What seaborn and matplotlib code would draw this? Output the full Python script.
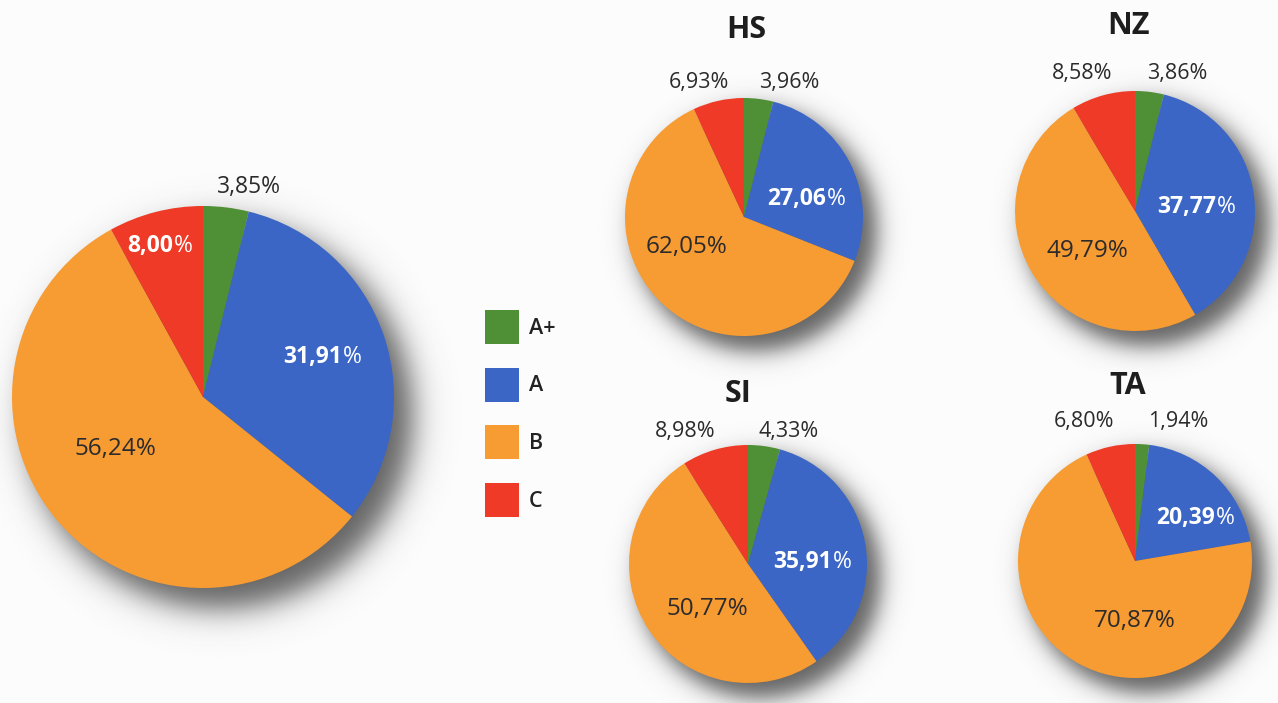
import numpy as np
import matplotlib
matplotlib.use("Agg")
import matplotlib.pyplot as plt
import seaborn as sns

# ---------------- data ----------------
categories = ["A+", "A", "B", "C"]
overall = [3.85, 31.91, 56.24, 8.00]
hs = [3.96, 27.06, 62.05, 6.93]
nz = [3.86, 37.77, 49.79, 8.58]
si = [4.33, 35.91, 50.77, 8.98]
ta = [1.94, 20.39, 70.87, 6.80]
titles = ["", "HS", "NZ", "SI", "TA"]

# ---------------- style ----------------
sns.set_theme(style="white")
plt.rcParams["font.family"] = ["Open Sans", "DejaVu Sans"]
palette = sns.color_palette(["#4f8f35", "#3b66c6", "#f79b33", "#ee3a26"])
BG = "#fcfcfc"
DARK = "#2b2b2b"

W, H = 1278, 703
fig = plt.figure(figsize=(W / 100, H / 100), dpi=100, facecolor=BG)
ax = fig.add_axes([0, 0, 1, 1])
ax.set_facecolor(BG)

# layout (image pixel coords, y downward); label offsets in units of radius
pies = [
    dict(vals=overall, c=(203, 397), r=191, title=titles[0], tpos=None,
         lab=[(0.24, -1.10), (0.61, -0.21), (-0.46, 0.27), (-0.24, -0.79)],
         white=[1, 3], fs_out=16.5, fs_in=17.5),
    dict(vals=hs, c=(744, 217), r=119, title=titles[1], tpos=(746, 30),
         lab=[(0.38, -1.13), (0.50, -0.15), (-0.48, 0.25), (-0.38, -1.13)],
         white=[1], fs_out=15.5, fs_in=17.5),
    dict(vals=nz, c=(1135, 211), r=120, title=titles[2], tpos=(1128, 26),
         lab=[(0.35, -1.15), (0.49, -0.03), (-0.40, 0.33), (-0.44, -1.15)],
         white=[1], fs_out=15.5, fs_in=17.5),
    dict(vals=si, c=(748, 564), r=119, title=titles[3], tpos=(738, 394),
         lab=[(0.34, -1.11), (0.52, -0.02), (-0.34, 0.38), (-0.53, -1.11)],
         white=[1], fs_out=15.5, fs_in=17.5),
    dict(vals=ta, c=(1135, 561), r=117, title=titles[4], tpos=(1128, 386),
         lab=[(0.37, -1.19), (0.49, -0.37), (0.0, 0.51), (-0.44, -1.19)],
         white=[1], fs_out=15.5, fs_in=17.5),
]

# ---------------- soft drop shadows ----------------
yy, xx = np.mgrid[0:H, 0:W]
alpha = np.zeros((H, W))
for p in pies:
    cx, cy = p["c"]
    off = 0.07 * p["r"] + 3
    d = np.hypot(xx - (cx + off), yy - (cy + off * 1.1))
    a = 0.82 / (1 + np.exp((d - (p["r"] + 2)) / (0.035 * p["r"] + 2.5)))
    alpha = np.maximum(alpha, a)
shadow = np.zeros((H, W, 4))
shadow[..., :3] = 0.25
shadow[..., 3] = alpha
ax.imshow(shadow, extent=(0, W, 0, H), origin="upper", zorder=0,
          interpolation="bilinear")


def fmt(v):
    return f"{v:.2f}".replace(".", ",")


legend_handles = None
for p in pies:
    cx, cy = p["c"]
    wedges, _ = ax.pie(p["vals"], colors=palette, startangle=90,
                       counterclock=False, center=(cx, H - cy), radius=p["r"],
                       wedgeprops=dict(linewidth=0))
    for w in wedges:
        w.set_zorder(2)
    if legend_handles is None:
        legend_handles = wedges
    for i, v in enumerate(p["vals"]):
        fx, fy = p["lab"][i]
        x = cx + fx * p["r"]
        y = H - (cy + fy * p["r"])
        outside = fy < -1
        if i in p["white"]:
            fs = 16.5
            num = ax.text(x - 0.42 * fs, y, fmt(v), ha="center", va="center",
                          fontsize=fs, fontweight="bold", color="white",
                          zorder=3)
            ax.annotate("%", xy=(1, 0.5), xycoords=num, xytext=(0.6, 0),
                        textcoords="offset points", ha="left", va="center",
                        fontsize=fs, color="white", zorder=3)
        else:
            fs = p["fs_out"] if outside else p["fs_in"]
            ax.text(x, y, fmt(v) + "%", ha="center", va="center",
                    fontsize=fs, color=DARK, zorder=3)
    if p["title"]:
        tx, ty = p["tpos"]
        ax.text(tx, H - ty, p["title"], ha="center", va="center",
                fontsize=22, fontweight="bold", color="#1e1e1e", zorder=3)

# pie() resets limits: set the pixel frame afterwards
ax.set_xlim(0, W)
ax.set_ylim(0, H)
ax.set_aspect("equal")
ax.axis("off")

leg = fig.legend(legend_handles, categories, loc="upper left",
                 bbox_to_anchor=(485 / W, 1 - 310 / H), frameon=False,
                 fontsize=15.5, handlelength=1.6, handleheight=2.05,
                 handletextpad=0.45, labelspacing=1.1, borderpad=0,
                 borderaxespad=0)
for t in leg.get_texts():
    t.set_fontweight("semibold")
    t.set_color("#222222")

fig.savefig("out.png", dpi=100, facecolor=BG)
